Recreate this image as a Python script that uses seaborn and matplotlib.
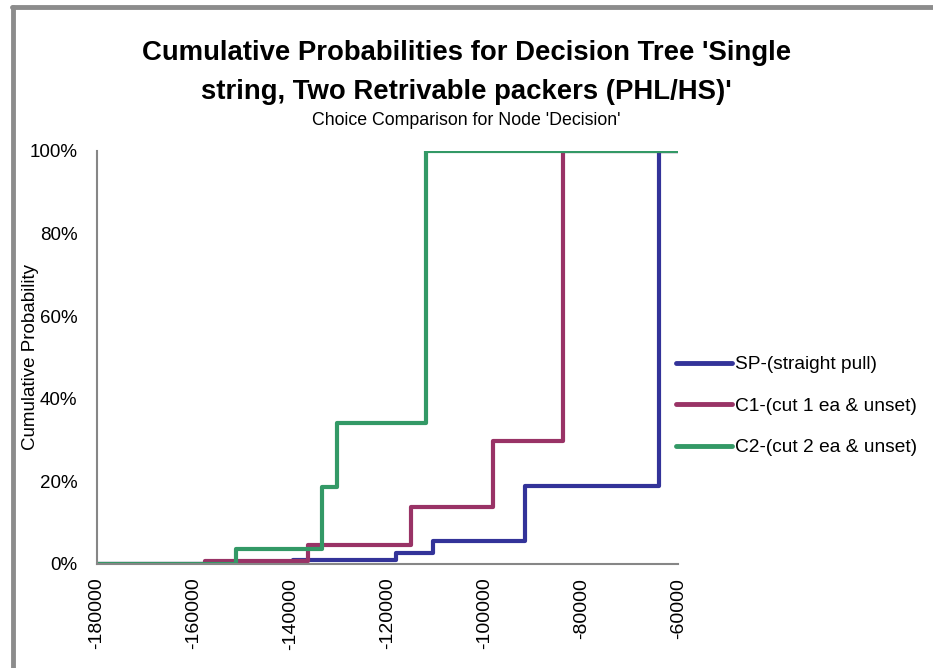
import matplotlib
matplotlib.use("Agg")
import matplotlib.pyplot as plt
from matplotlib.lines import Line2D
from matplotlib.ticker import FuncFormatter
import pandas as pd
import seaborn as sns

# step points (steps-post: value holds until next x)
sp_x = [-180000, -139460, -118250, -110690, -91600, -63880, -60000]
sp_y = [0.0, 0.008, 0.026, 0.056, 0.189, 1.0, 1.0]

c1_x = [-180000, -157700, -136360, -115100, -98150, -83850, -60000]
c1_y = [0.0, 0.006, 0.046, 0.138, 0.298, 1.0, 1.0]

c2_x = [-180000, -151300, -133470, -130500, -112050, -60000]
c2_y = [0.0, 0.037, 0.187, 0.34, 1.0, 1.0]

series_names = ["SP-(straight pull)", "C1-(cut 1 ea & unset)", "C2-(cut 2 ea & unset)"]
colors = ["#333399", "#993366", "#339966"]
x_ticks = [-180000, -160000, -140000, -120000, -100000, -80000, -60000]
y_ticks = [0, 0.2, 0.4, 0.6, 0.8, 1.0]

frames = []
for name, xs, ys in zip(series_names, [sp_x, c1_x, c2_x], [sp_y, c1_y, c2_y]):
    frames.append(pd.DataFrame({"x": xs, "y": ys, "series": name}))
df = pd.concat(frames, ignore_index=True)

sns.set_style("white")
plt.rcParams['font.family'] = ['Liberation Sans', 'DejaVu Sans']
plt.rcParams['text.color'] = 'black'
plt.rcParams['xtick.color'] = 'black'
plt.rcParams['ytick.color'] = 'black'
plt.rcParams['axes.labelcolor'] = 'black'

fig = plt.figure(figsize=(9.33, 6.68), dpi=100)
ax = fig.add_axes([0.104, 0.156, 0.623, 0.618])

sns.lineplot(data=df, x="x", y="y", hue="series", palette=colors,
             drawstyle="steps-post", sort=False, estimator=None,
             linewidth=3, ax=ax, legend=False)

ax.set_xlim(-180000, -60000)
ax.set_ylim(0, 1.0)
ax.set_xticks(x_ticks)
ax.set_xticklabels([str(v) for v in x_ticks], rotation=90, fontsize=14)
ax.set_yticks(y_ticks)
ax.yaxis.set_major_formatter(FuncFormatter(lambda v, p: f"{v*100:.0f}%"))
ax.tick_params(axis="y", labelsize=13.5, pad=8)
ax.tick_params(axis="x", pad=4)
ax.tick_params(axis="both", direction="out", length=6, width=1.2, color="#868686")
ax.set_xlabel("")
ax.set_ylabel("Cumulative Probability", fontsize=13.5, labelpad=-7)

for s in ["top", "right"]:
    ax.spines[s].set_visible(False)
for s in ["left", "bottom"]:
    ax.spines[s].set_color("#868686")
    ax.spines[s].set_linewidth(1.5)

handles = [Line2D([0], [0], color=c, lw=3.5, solid_capstyle="round") for c in colors]
fig.legend(handles, series_names, loc="center left", bbox_to_anchor=(0.725, 0.392),
           frameon=False, fontsize=13.8, handlelength=2.9, handletextpad=0.15,
           labelspacing=1.26, borderpad=0, borderaxespad=0)

fig.text(0.5, 0.8915, "Cumulative Probabilities for Decision Tree 'Single\nstring, Two Retrivable packers (PHL/HS)'",
         ha="center", va="center", fontsize=19.8, fontweight="bold", linespacing=1.68)
fig.text(0.5, 0.82, "Choice Comparison for Node 'Decision'", ha="center", va="center", fontsize=12.8)

# chart area border (left and top edges visible)
fig.add_artist(Line2D([0.0135, 0.0135], [0.0, 0.9895], transform=fig.transFigure, color="#8c8c8c", lw=3.5))
fig.add_artist(Line2D([0.0125, 1.0], [0.9895, 0.9895], transform=fig.transFigure, color="#8c8c8c", lw=3.5))

fig.savefig("out.png", dpi=100)
